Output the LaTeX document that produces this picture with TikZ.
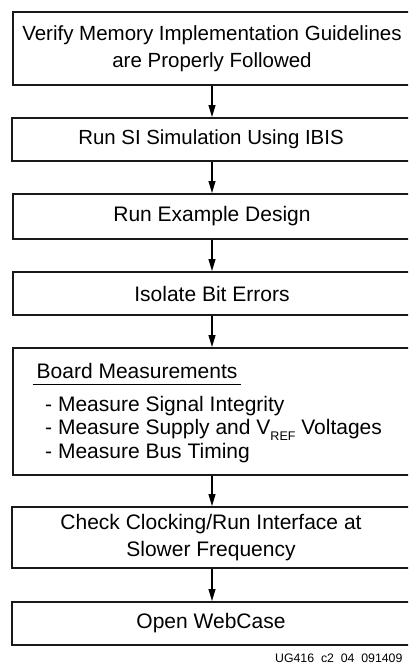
\documentclass[tikz,border=0pt]{standalone}
\usepackage{fontspec}
\setmainfont{Liberation Sans}
\usetikzlibrary{arrows.meta}
\begin{document}
\begin{tikzpicture}[x=1pt,y=-1pt,
  box/.style={draw=black!90,line width=2pt,rectangle,minimum width=398pt,inner sep=0pt,
    font=\fontsize{21}{27}\selectfont,align=center},
  conn/.style={line width=1.1pt,-{Triangle[length=12pt,width=7pt]}},
  txt/.style={anchor=base west,inner sep=0pt,font=\fontsize{21}{24}\selectfont}]
\useasboundingbox (0,0) rectangle (408,665);
\clip (0,0) rectangle (408,665);
\node[box,minimum height=73pt,font=\fontsize{20.5}{27}\selectfont] (b1) at (212,48.5) {Verify Memory Implementation Guidelines\\are Properly Followed};
\node[box,minimum height=43pt,font=\fontsize{20.4}{27}\selectfont] (b2) at (211,139.5) {Run SI Simulation Using IBIS};
\node[box,minimum height=45pt] (b3) at (212,216.5) {Run Example Design};
\node[box,minimum height=43pt] (b4) at (212,293.5) {Isolate Bit Errors};
\node[box,minimum height=127pt] (b5) at (212,411.5) {};
\node[box,minimum height=61pt] (b6) at (211,537.5) {Check Clocking/Run Interface at\\Slower Frequency};
\node[box,minimum height=43pt] (b7) at (211,623.5) {Open WebCase};
\node[txt] (h5) at (36.5,378) {Board Measurements};
\coordinate (u1) at (33,384);
\coordinate (u2) at (241,384);
\draw[line width=1pt] (u1) -- (u2);
\node[txt] (l1) at (45,411) {- Measure Signal Integrity};
\node[txt] (l2) at (45,434.5) {- Measure Supply and V\raisebox{-6pt}{\fontsize{12.5}{12.5}\selectfont REF} Voltages};
\node[txt] (l3) at (45,458) {- Measure Bus Timing};
\node[anchor=base west,inner sep=0pt,font=\fontsize{12.3}{14}\selectfont] (ft) at (275,662) {UG416\hspace{0.556em}c2\hspace{0.556em}04\hspace{0.556em}091409};
\draw[conn] (b1.south -| 212,0) -- (b2.north -| 212,0);
\draw[conn] (b2.south -| 212,0) -- (b3.north -| 212,0);
\draw[conn] (b3) -- (b4);
\draw[conn] (b4) -- (b5);
\draw[conn] (b5.south -| 212,0) -- (b6.north -| 212,0);
\draw[conn] (b6.south -| 212,0) -- (b7.north -| 212,0);
\end{tikzpicture}
\end{document}
